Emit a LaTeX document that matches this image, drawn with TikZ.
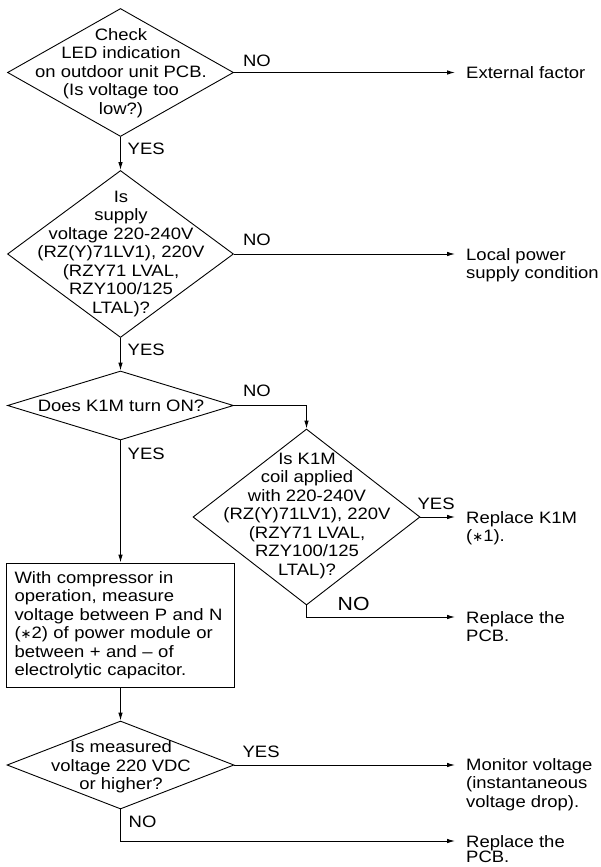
\documentclass[tikz,border=0pt]{standalone}
\usepackage{fontspec}
\setmainfont{Liberation Sans}[FakeStretch=1.12]
\newfontfamily\symfont{DejaVu Sans}
\newcommand{\astmark}{{\symfont\fontsize{13}{13}\selectfont\char"2217}}
\usetikzlibrary{shapes.geometric,arrows.meta,calc}

\begin{document}
\begin{tikzpicture}[x=1pt,y=-1pt,
  every node/.style={font=\fontsize{16.5}{18.5}\selectfont,inner sep=0pt},
  decision/.style={diamond,draw,line width=0.9pt},
  qtext/.style={align=center},
  outcome/.style={align=left,anchor=north west},
  flow/.style={line width=0.9pt,-{Latex[length=8pt,width=4.5pt]}},
  exit/.style={flow,shorten >=11pt}]
  \useasboundingbox (0,0) rectangle (601,867);
  % decisions down the left column
  \node[decision,minimum width=226pt,minimum height=128pt] (led) at (120.5,72.5) {};
  \node[qtext] (led-t) at (121,73) {Check\\LED indication\\on outdoor unit PCB.\\(Is voltage too\\low?)};
  \node[decision,minimum width=226pt,minimum height=167pt] (sup) at (120.5,254) {};
  \node[qtext] (sup-t) at (121,254) {Is\\supply\\voltage 220-240V\\(RZ(Y)71LV1), 220V\\(RZY71 LVAL,\\RZY100/125\\LTAL)?};
  \node[decision,minimum width=226pt,minimum height=69pt] (k1m) at (120.5,405.5) {};
  \node[qtext] (k1m-t) at (121,406) {Does K1M turn ON?};
  \node[decision,minimum width=227pt,minimum height=176pt] (coil) at (306.5,517) {};
  \node[qtext] (coil-t) at (307,516) {Is K1M\\coil applied\\with 220-240V\\(RZ(Y)71LV1), 220V\\(RZY71 LVAL,\\RZY100/125\\LTAL)?};
  % measurement step
  \node[draw,line width=0.9pt,text width=212pt,inner xsep=8pt,inner ysep=6pt,
        minimum height=124pt,align=left] (meas) at (120.5,625)
    {With compressor in\\operation, measure\\voltage between P and N\\(\astmark2) of power module or\\between + and -- of\\electrolytic capacitor.};
  \node[decision,minimum width=227pt,minimum height=88pt] (volt) at (120.5,765) {};
  \node[qtext] (volt-t) at (121,767) {Is measured\\voltage 220 VDC\\or higher?};
  % results on the right
  \node[outcome] (ext) at (466,66) {External factor};
  \node[outcome] (loc) at (466,248) {Local power\\supply condition};
  \node[outcome] (rk1m) at (466,511) {Replace K1M\\(\astmark1).};
  \node[outcome] (pcb1) at (466,611) {Replace the\\PCB.};
  \node[outcome] (mon) at (466,758) {Monitor voltage\\(instantaneous\\voltage drop).};
  \node[outcome,font=\fontsize{16.5}{15.5}\selectfont] (pcb2) at (466,835) {Replace the\\PCB.};
  % connectors
  \draw[flow] (led.south) -- (sup.north);
  \draw[flow] (sup.south) -- (k1m.north);
  \draw[flow] (k1m.east) -| (coil.north);
  \draw[flow] (k1m.south) -- (meas.north);
  \draw[flow] (meas.south) -- (volt.north);
  \draw[exit] (led.east) -- (led.east -| ext.west);
  \draw[exit] (sup.east) -- (sup.east -| loc.west);
  \draw[exit] (coil.east) -- (coil.east -| rk1m.west);
  \draw[exit] (coil.south) |- ($(pcb1.north west)+(0,6)$);
  \draw[exit] (volt.east) -- (volt.east -| mon.west);
  \draw[exit] (volt.south) |- ($(pcb2.north west)+(0,6)$);
  % branch labels
  \node[anchor=south west] (led-no) at ([shift={(9,-6)}]led.east) {NO};
  \node[anchor=north west] (led-yes) at ([shift={(7,6)}]led.south) {YES};
  \node[anchor=south west] (sup-no) at ([shift={(9,-8)}]sup.east) {NO};
  \node[anchor=north west] (sup-yes) at ([shift={(7,6)}]sup.south) {YES};
  \node[anchor=south west] (k1m-no) at ([shift={(9,-9)}]k1m.east) {NO};
  \node[anchor=north west] (k1m-yes) at ([shift={(7,7)}]k1m.south) {YES};
  \node[anchor=south west] (coil-yes) at ([shift={(-3,-7)}]coil.east) {YES};
  \node[anchor=south west,scale=1.15] (coil-no) at ([shift={(31,5)}]coil.south) {NO};
  \node[anchor=south west] (volt-yes) at ([shift={(8,-7)}]volt.east) {YES};
  \node[anchor=north west] (volt-no) at ([shift={(8,6)}]volt.south) {NO};
\end{tikzpicture}
\end{document}
